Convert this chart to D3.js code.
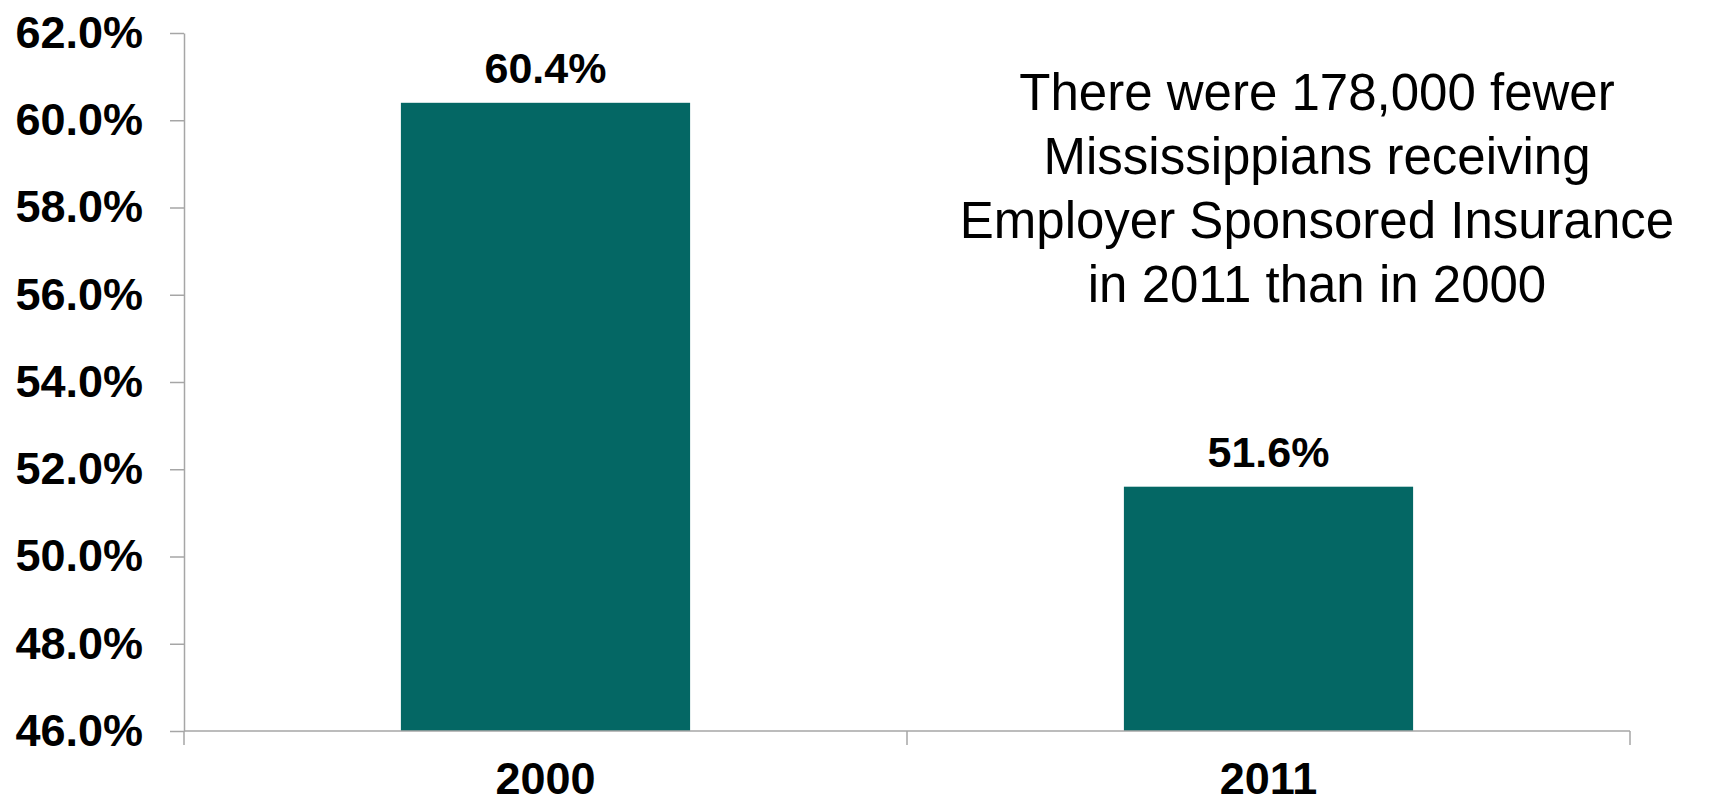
<!DOCTYPE html>
<html lang="en">
	<head>
		<meta charset="utf-8">
		<title>Employer Sponsored Insurance</title>
		<script src="https://d3js.org/d3.v7.min.js"></script>
		<style>
			body { margin: 0; background: #fff; }
			text { font-family: "Liberation Sans", Arial, sans-serif; }
		</style>
	</head>
	<body>
		<script>

	// data
	var years = ["2000", "2011"];
	var shares = [60.4, 51.6];
	var yTicks = [46, 48, 50, 52, 54, 56, 58, 60, 62];
	var note = ["There were 178,000 fewer",
	            "Mississippians receiving",
	            "Employer Sponsored Insurance",
	            "in 2011 than in 2000"];

	var w = 1712
	var h = 803
	// plot edges (note: "top" is reserved on window, so prefixed names)
	var plotL = 184, plotR = 1630, plotT = 33, plotB = 731;
	var axisColor = "#a6a6a6";

	var svg = d3.select("body")
		.append("svg")
			.attr("width", w)
			.attr("height", h);

	var xScale = d3.scaleBand()
		.domain(years)
		.range([plotL, plotR])
		.paddingInner(0.6)
		.paddingOuter(0.3);

	var yScale = d3.scaleLinear()
		.domain([46, 62])
		.range([plotB, plotT]);

	// y axis
	var yAxis = svg.append("g")
		.attr("transform", "translate(" + plotL + ",0)")
		.call(d3.axisLeft(yScale)
			.tickValues(yTicks)
			.tickSize(14)
			.tickPadding(27)
			.tickSizeOuter(0)
			.tickFormat(d => d.toFixed(1) + "%"));
	yAxis.selectAll("path, line")
		.attr("stroke", axisColor)
		.attr("stroke-width", 1.5);
	yAxis.selectAll("text")
		.attr("fill", "#000")
		.style("font-size", "45px")
		.style("font-weight", "bold")
		.style("font-family", "'Liberation Sans', Arial, sans-serif");

	// bars
	svg.selectAll("rect.bar")
		.data(shares)
		.enter()
		.append("rect")
		.attr("class", "bar")
		.attr("x", (d, i) => xScale(years[i]))
		.attr("y", d => yScale(d))
		.attr("width", xScale.bandwidth())
		.attr("height", d => plotB - yScale(d))
		.attr("fill", "#046764");

	// x axis line + category boundary ticks
	svg.append("line")
		.attr("x1", plotL).attr("x2", plotR)
		.attr("y1", plotB).attr("y2", plotB)
		.attr("stroke", axisColor)
		.attr("stroke-width", 1.5);

	var bounds = d3.range(years.length + 1).map(i => plotL + i * xScale.step());
	svg.selectAll("line.xtick")
		.data(bounds)
		.enter()
		.append("line")
		.attr("class", "xtick")
		.attr("x1", d => d).attr("x2", d => d)
		.attr("y1", plotB).attr("y2", plotB + 14)
		.attr("stroke", axisColor)
		.attr("stroke-width", 1.5);

	// category labels
	svg.selectAll("text.cat")
		.data(years)
		.enter()
		.append("text")
		.attr("class", "cat")
		.attr("x", d => xScale(d) + xScale.bandwidth() / 2)
		.attr("y", 794)
		.attr("text-anchor", "middle")
		.style("font-size", "45px")
		.style("font-weight", "bold")
		.text(d => d);

	// value labels
	svg.selectAll("text.val")
		.data(shares)
		.enter()
		.append("text")
		.attr("class", "val")
		.attr("x", (d, i) => xScale(years[i]) + xScale.bandwidth() / 2)
		.attr("y", d => yScale(d) - 20)
		.attr("text-anchor", "middle")
		.style("font-size", "43px")
		.style("font-weight", "bold")
		.text(d => d.toFixed(1) + "%");

	// annotation
	svg.append("text")
		.attr("text-anchor", "middle")
		.style("font-size", "51px")
		.selectAll("tspan")
		.data(note)
		.enter()
		.append("tspan")
		.attr("x", 1317)
		.attr("y", (d, i) => 110 + i * 64)
		.text(d => d);

		</script>
	</body>
</html>
